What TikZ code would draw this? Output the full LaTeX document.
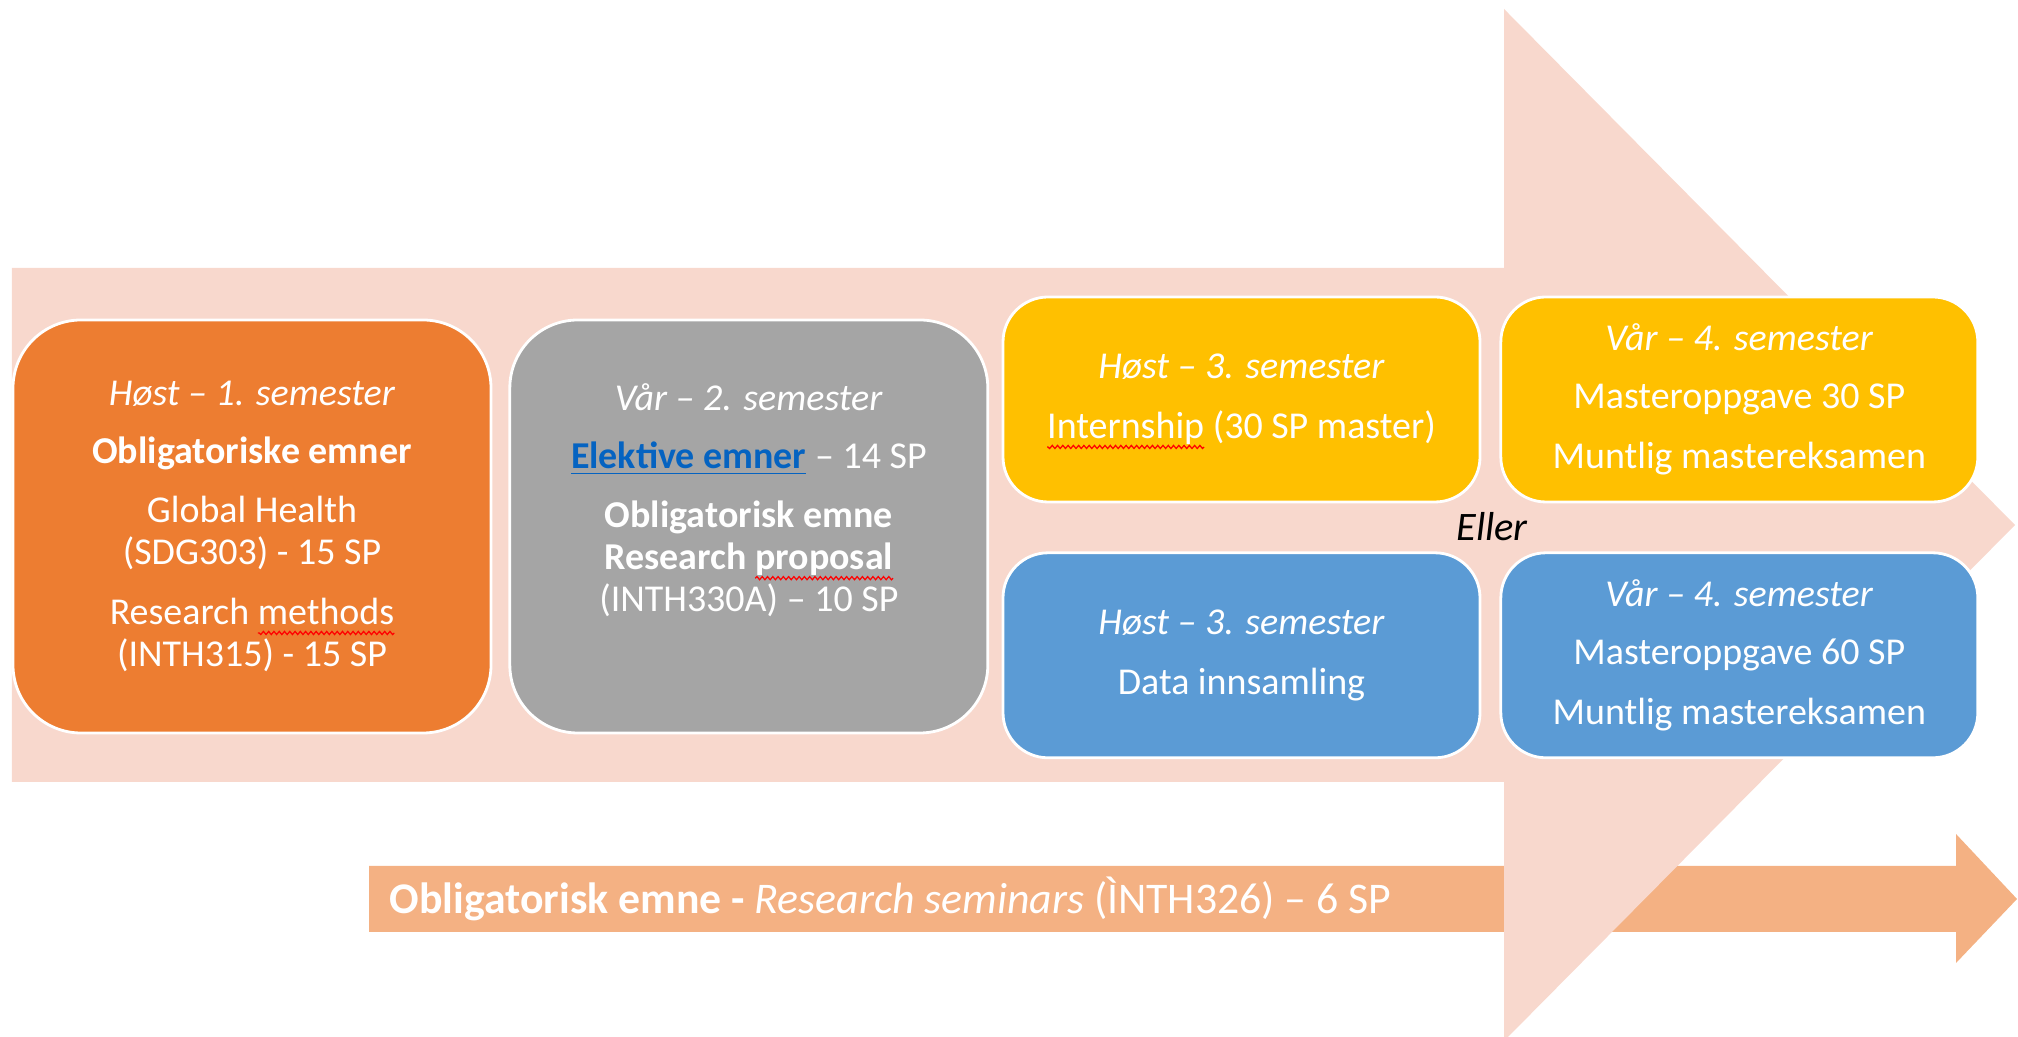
\documentclass[tikz,border=0pt]{standalone}
\usepackage{fontspec}
\setmainfont{Carlito}
\usetikzlibrary{positioning, decorations.pathmorphing}

% red spell-check wave under a word
\newsavebox{\wordbox}
\newcommand{\spellerr}[1]{\sbox\wordbox{#1}\usebox\wordbox\tikz[overlay]\draw[red, sharp corners, line width=0.35pt, decorate,
  decoration={snake, amplitude=0.45pt, segment length=1.5pt}] (0, -2.4pt) -- ++(-\wd\wordbox, 0);}

\begin{document}
\begin{tikzpicture}[
  semester/.style={rounded corners=0.68cm, draw=white, line width=0.8pt, text=white,
    align=center, inner sep=0pt, font=\fontsize{10.8}{11.95}\selectfont},
  halfsem/.style={semester, rounded corners=0.45cm, minimum width=4.77cm, minimum height=2.05cm}
]

% Define colors
\definecolor{bigpink}{RGB}{248, 216, 205}
\definecolor{barorange}{RGB}{244, 177, 131}
\definecolor{boxorange}{RGB}{237, 125, 49}
\definecolor{boxgray}{RGB}{165, 165, 165}
\definecolor{boxyellow}{RGB}{255, 192, 0}
\definecolor{boxblue}{RGB}{91, 155, 213}
\definecolor{linkblue}{RGB}{5, 99, 193}

\useasboundingbox (0, 0) rectangle (20.18, 10.37);
\clip (0, 0) rectangle (20.18, 10.37);

% Seminar arrow at the bottom
\fill[barorange] (3.69, 1.71) -- (19.56, 1.71) -- (19.56, 2.03) -- (20.17, 1.38)
  -- (19.56, 0.74) -- (19.56, 1.05) -- (3.69, 1.05) -- cycle;

% Big background arrow
\fill[bigpink] (0.12, 7.69) -- (15.04, 7.69) -- (15.04, 10.28) -- (20.15, 5.12)
  -- (15.04, -0.04) -- (15.04, 2.55) -- (0.12, 2.55) -- cycle;

% First year
\node[semester, fill=boxorange, minimum width=4.78cm, minimum height=4.13cm] (host1) at (2.52, 5.105)
  {\textit{Høst – 1. semester}\\[4.5pt]\textbf{Obligatoriske emner}\\[5pt]Global Health\\(SDG303) - 15 SP\\[5pt]Research \spellerr{methods}\\(INTH315) - 15 SP};
\node[semester, fill=boxgray, minimum width=4.78cm, minimum height=4.13cm, right=0.16cm of host1] (vaar2)
  {\textit{Vår – 2. semester}\\[4.5pt]\textbf{\textcolor{linkblue}{\underline{Elektive emner}}} – 14 SP\\[5pt]\textbf{Obligatorisk emne}\\\textbf{Research \spellerr{proposal}}\\(INTH330A) – 10 SP\\[4.5pt]\mbox{}};

% Second year, internship track
\node[halfsem, fill=boxyellow] (host3a) at (12.415, 6.375)
  {\textit{Høst – 3. semester}\\[5pt]\spellerr{Internship} (30 SP master)};
\node[halfsem, fill=boxyellow, right=0.18cm of host3a] (vaar4a)
  {\textit{Vår – 4. semester}\\[4.5pt]Masteroppgave 30 SP\\[5pt]Muntlig mastereksamen};

% Second year, data track
\node[halfsem, fill=boxblue, below=0.48cm of host3a] (host3b)
  {\textit{Høst – 3. semester}\\[5pt]Data innsamling};
\node[halfsem, fill=boxblue, right=0.18cm of host3b] (vaar4b)
  {\textit{Vår – 4. semester}\\[4.5pt]Masteroppgave 60 SP\\[5pt]Muntlig mastereksamen};

\node[font=\fontsize{11.5}{13}\selectfont\itshape] (eller) at (14.92, 5.10) {Eller};

% Bottom text
\node[anchor=west, inner sep=0pt, text=white, font=\fontsize{12.45}{14}\selectfont] (seminar) at (3.89, 1.38)
  {\textbf{Obligatorisk emne -} \textit{Research seminars} (ÌNTH326) – 6 SP};

\end{tikzpicture}
\end{document}
